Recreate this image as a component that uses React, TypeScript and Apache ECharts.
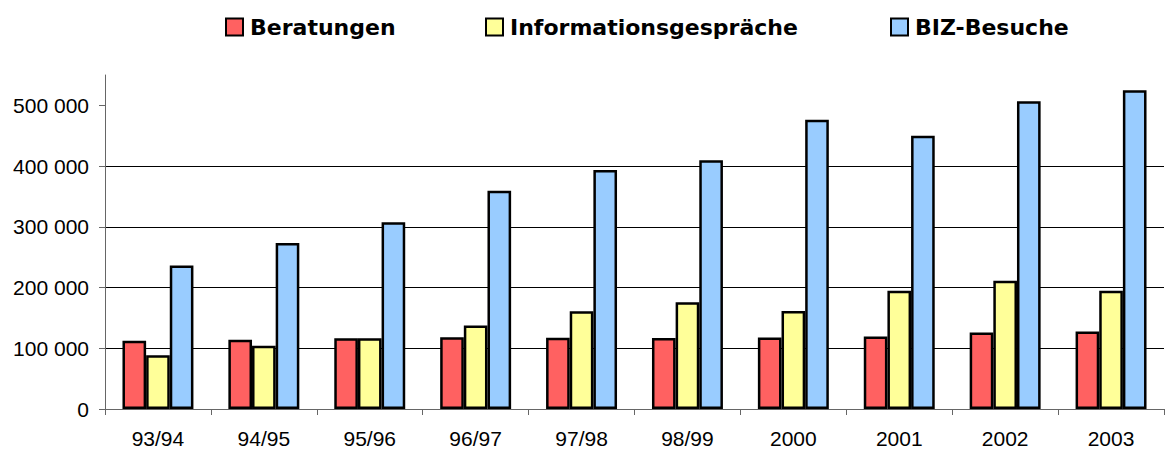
import React, { useEffect, useRef } from "react";
import * as echarts from "echarts";

const categories = ["93/94", "94/95", "95/96", "96/97", "97/98", "98/99", "2000", "2001", "2002", "2003"];
const beratungen = [112500, 114000, 116700, 118000, 117400, 116800, 117900, 119300, 126000, 127600];
const informationsgespraeche = [88600, 104000, 116500, 137500, 160900, 175800, 161400, 194700, 211000, 194700];
const bizBesuche = [236500, 273400, 307600, 359500, 393600, 409500, 476300, 450000, 506600, 524700];
const yTicks = [0, 100000, 200000, 300000, 400000, 500000];

const seriesNames = ["Beratungen", "Informationsgespräche", "BIZ-Besuche"];
const seriesColors = ["#FF6161", "#FFFF99", "#99CCFF"];
const legendLefts = [225, 485, 890];

export default function App() {
  const ref = useRef<HTMLDivElement>(null);
  useEffect(() => {
    document.body.style.margin = "0";
    const chart = echarts.init(ref.current!, null, { renderer: "svg" });
    const datas = [beratungen, informationsgespraeche, bizBesuche];
    chart.setOption({
      animation: false,
      backgroundColor: "#ffffff",
      legend: seriesNames.map((n, i) => ({
        data: [n],
        left: legendLefts[i],
        top: 14,
        padding: 0,
        itemWidth: 17,
        itemHeight: 17,
        icon: "rect",
        textStyle: {
          fontFamily: "DejaVu Sans",
          fontWeight: "bold",
          fontSize: 22,
          lineHeight: 26,
          color: "#000",
          padding: [0, 0, 0, 2],
        },
      })),
      grid: { left: 105, right: 2, top: 75, bottom: 41, containLabel: false },
      xAxis: {
        type: "category",
        data: categories,
        boundaryGap: true,
        axisLine: { lineStyle: { color: "#666", width: 1 } },
        axisTick: { show: true, length: 6, alignWithLabel: false, lineStyle: { color: "#666" } },
        axisLabel: { fontFamily: "Liberation Sans", fontSize: 21, color: "#000", margin: 19 },
      },
      yAxis: {
        type: "value",
        min: 0,
        max: 550000,
        interval: 100000,
        axisLine: { show: true, lineStyle: { color: "#666", width: 1 } },
        axisTick: { show: true, length: 6, lineStyle: { color: "#666" }, customValues: yTicks },
        axisLabel: {
          fontFamily: "Liberation Sans",
          fontSize: 21,
          color: "#000",
          margin: 16,
          customValues: yTicks,
          formatter: (v: number) => {
            const s = String(Math.round(v));
            return s.replace(/\B(?=(\d{3})+(?!\d))/g, " ");
          },
        },
        splitLine: { show: true, showMaxLine: false, showMinLine: false, lineStyle: { color: "#000", width: 1 } },
      },
      series: seriesNames.map((n, i) => ({
        name: n,
        type: "bar",
        data: datas[i],
        barGap: "0%",
        barCategoryGap: "33%",
        itemStyle: { color: seriesColors[i], borderColor: "#000", borderWidth: 2.5 },
      })),
    });
    return () => chart.dispose();
  }, []);
  return <div ref={ref} style={{ width: 1166, height: 450 }} />;
}
